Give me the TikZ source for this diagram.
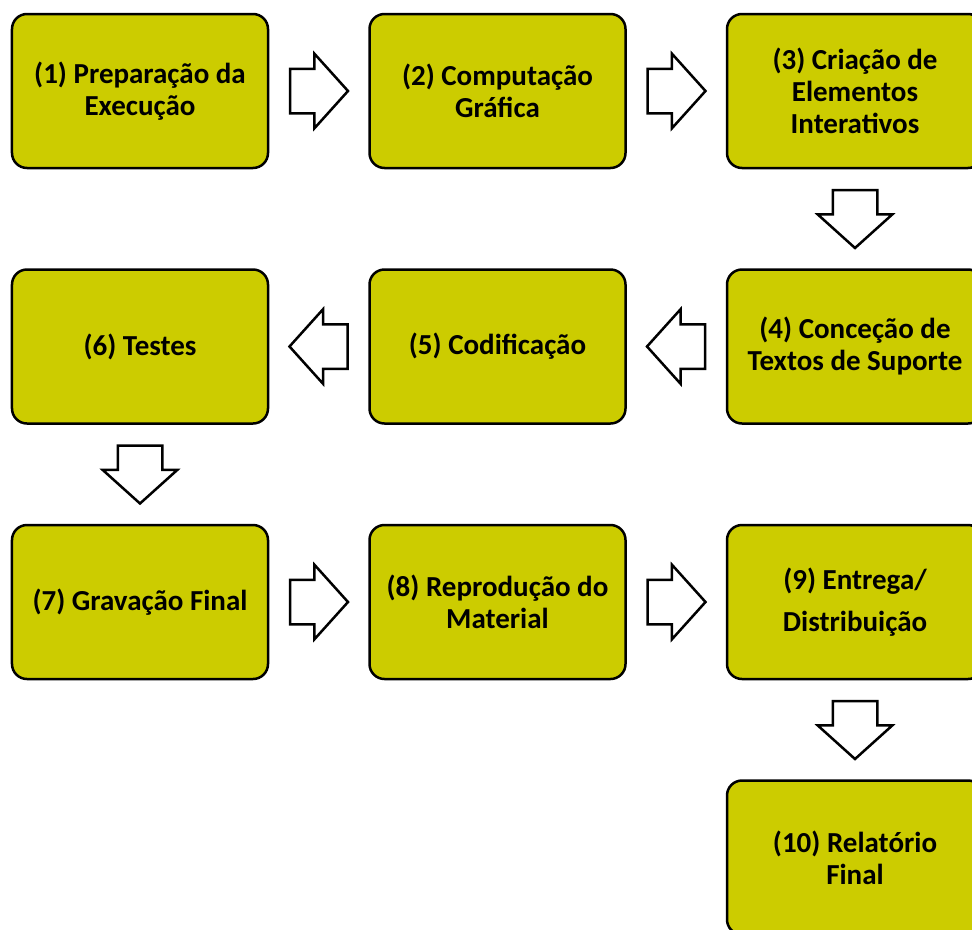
\documentclass[tikz,border=0pt]{standalone}
\usepackage{fontspec}
\setmainfont{Carlito}
\usepackage{tikz}
\usetikzlibrary{shapes.arrows,positioning,calc}
\definecolor{stagefill}{RGB}{204,204,0}
\tikzstyle{stage}=[draw=black,line width=2.5bp,fill=stagefill,rounded corners=15bp,minimum width=256bp,minimum height=154bp,inner sep=0pt,outer sep=0pt,align=center,font=\fontsize{29bp}{32bp}\selectfont\bfseries]
\tikzstyle{flow arrow}=[single arrow,draw=black,line width=2.5bp,fill=white,inner xsep=0pt,inner ysep=21bp,minimum height=58bp,single arrow head extend=15bp,single arrow tip angle=96,anchor=tail]

\begin{document}
\begin{tikzpicture}[x=1bp,y=-1bp,node distance=101.5bp]
    \useasboundingbox (0,0) rectangle (972,930);
    \clip (0,0) rectangle (972,930);
    % First we draw the stages
    \node[stage] (s1) at (140,91) {(1) Preparação da\\Execução};
    \node[stage, right=of s1] (s2) {(2) Computação\\Gráfica};
    \node[stage, right=of s2] (s3) {(3) Criação de\\Elementos\\Interativos};
    \node[stage, below=of s3] (s4) {(4) Conceção de\\Textos de Suporte};
    \node[stage, left=of s4] (s5) {(5) Codificação};
    \node[stage, left=of s5] (s6) {(6) Testes};
    \node[stage, below=of s6] (s7) {(7) Gravação Final};
    \node[stage, right=of s7] (s8) {(8) Reprodução do\\Material};
    \node[stage, right=of s8] (s9) {(9) Entrega/\\[10bp]Distribuição};
    \node[stage, below=of s9] (s10) {(10) Relatório\\Final};

    % Connect stages with block arrows
    \foreach \source/\dest/\angle in {s1/s2/0, s2/s3/0, s3/s4/-90, s4/s5/180, s5/s6/180, s6/s7/-90, s7/s8/0, s8/s9/0, s9/s10/-90}
        \node[flow arrow, rotate=\angle] (\source-\dest) at ($(\source)!0.5!(\dest)!30bp!(\source)$) {};

\end{tikzpicture}
\end{document}
